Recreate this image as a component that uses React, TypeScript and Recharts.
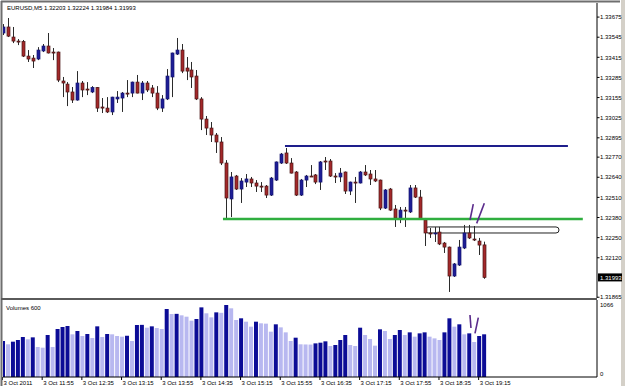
import { ComposedChart, Bar, XAxis, YAxis, ReferenceLine, ReferenceArea, Cell } from 'recharts';

// EURUSD M5, 3 Oct 2011, bars from 11:15 to 19:20
const opens = [
  1.33572, 1.33611, 1.33546, 1.3352, 1.33517, 1.33423, 1.3341, 1.33404, 1.33456, 1.33488,
  1.33449, 1.33449, 1.33262, 1.33242, 1.33191, 1.33139, 1.33249, 1.3321, 1.33191, 1.3322,
  1.33094, 1.33087, 1.33062, 1.33146, 1.33152, 1.33184, 1.33184, 1.33255, 1.33184, 1.33249,
  1.33217, 1.33184, 1.33087, 1.33146, 1.33288, 1.33436, 1.33462, 1.33346, 1.33333, 1.33294,
  1.33146, 1.33016, 1.32958, 1.32913, 1.32868, 1.32732, 1.325, 1.32648, 1.32564, 1.32609,
  1.32629, 1.32603, 1.32583, 1.32583, 1.32525, 1.32622, 1.32732, 1.32797, 1.32732, 1.32674,
  1.32525, 1.32622, 1.32648, 1.32655, 1.32609, 1.32745, 1.32745, 1.32648, 1.32642, 1.32674,
  1.32551, 1.32609, 1.32603, 1.32674, 1.32661, 1.32629, 1.32622, 1.32441, 1.32564, 1.32435,
  1.32377, 1.32428, 1.32416, 1.32571, 1.32512, 1.32364, 1.3228, 1.32278, 1.32286, 1.32215,
  1.32189, 1.32002, 1.32073, 1.32183, 1.3228, 1.32241, 1.32228, 1.32203,
];
const highs = [
  1.3363, 1.33669, 1.33611, 1.33533, 1.33527, 1.33462, 1.3343, 1.33481, 1.33501, 1.33572,
  1.33475, 1.33452, 1.33288, 1.33255, 1.33223, 1.33326, 1.33262, 1.33255, 1.33229, 1.33223,
  1.33152, 1.33158, 1.3316, 1.33197, 1.33191, 1.33268, 1.33258, 1.33301, 1.33262, 1.33262,
  1.33236, 1.33229, 1.33171, 1.33339, 1.33445, 1.3354, 1.33501, 1.33417, 1.33385, 1.33333,
  1.33158, 1.33036, 1.32997, 1.32926, 1.329, 1.32751, 1.32674, 1.32655, 1.32635, 1.32661,
  1.32642, 1.32622, 1.32609, 1.3259, 1.32642, 1.32742, 1.32797, 1.32829, 1.32764, 1.3268,
  1.32629, 1.32655, 1.32719, 1.32661, 1.32745, 1.32771, 1.32758, 1.32667, 1.327, 1.32677,
  1.32612, 1.32642, 1.3268, 1.32719, 1.32687, 1.32687, 1.32625, 1.32564, 1.32571, 1.32461,
  1.32448, 1.32448, 1.3259, 1.3259, 1.32558, 1.32377, 1.32312, 1.32319, 1.32319, 1.32222,
  1.32192, 1.32086, 1.32235, 1.32332, 1.32332, 1.32325, 1.32248, 1.32224,
];
const lows = [
  1.33559, 1.33546, 1.33507, 1.33494, 1.33417, 1.33385, 1.33346, 1.33397, 1.33449, 1.3344,
  1.33397, 1.33255, 1.33158, 1.331, 1.3312, 1.33135, 1.33158, 1.33171, 1.33184, 1.33062,
  1.33055, 1.33055, 1.33042, 1.3312, 1.33062, 1.33158, 1.33158, 1.33182, 1.33139, 1.33191,
  1.33158, 1.33074, 1.33062, 1.33139, 1.33158, 1.3343, 1.33313, 1.33268, 1.33217, 1.33139,
  1.32945, 1.32913, 1.32868, 1.32797, 1.32719, 1.3237, 1.32383, 1.32558, 1.32474, 1.32577,
  1.32577, 1.32545, 1.32545, 1.32506, 1.32519, 1.32616, 1.32726, 1.32726, 1.32665, 1.32519,
  1.32519, 1.32577, 1.32642, 1.32596, 1.32558, 1.32687, 1.32642, 1.32603, 1.32609, 1.32532,
  1.32525, 1.32474, 1.326, 1.32648, 1.3259, 1.32609, 1.32428, 1.32435, 1.32422, 1.32319,
  1.32344, 1.32319, 1.32409, 1.32506, 1.32364, 1.32196, 1.32248, 1.32222, 1.32202, 1.32151,
  1.31899, 1.31996, 1.32067, 1.32176, 1.32241, 1.32228, 1.32138, 1.31984,
];
const closes = [
  1.33611, 1.33552, 1.3352, 1.33517, 1.33423, 1.33404, 1.33391, 1.33462, 1.33488, 1.33443,
  1.33443, 1.33268, 1.33249, 1.33191, 1.33139, 1.33249, 1.33204, 1.33207, 1.3322, 1.33087,
  1.33087, 1.33062, 1.33158, 1.33158, 1.33184, 1.33182, 1.33255, 1.33184, 1.33249, 1.33204,
  1.33184, 1.33087, 1.33146, 1.33294, 1.33443, 1.33462, 1.33326, 1.33326, 1.33288, 1.33146,
  1.33016, 1.32958, 1.32913, 1.32868, 1.32732, 1.32506, 1.32642, 1.32564, 1.32616, 1.32629,
  1.32603, 1.32583, 1.3258, 1.32525, 1.32635, 1.32739, 1.3279, 1.32732, 1.32667, 1.32525,
  1.32622, 1.32648, 1.32646, 1.32609, 1.32739, 1.32742, 1.32648, 1.32642, 1.32667, 1.32551,
  1.32609, 1.32606, 1.32674, 1.32655, 1.32629, 1.32616, 1.32441, 1.32558, 1.32428, 1.32377,
  1.32428, 1.32426, 1.32571, 1.32512, 1.3237, 1.3228, 1.32278, 1.3228, 1.32209, 1.32189,
  1.32002, 1.3208, 1.32189, 1.3228, 1.32248, 1.32238, 1.32202, 1.31993,
];
const volumes = [
  533, 484, 523, 548, 592, 558, 587, 444, 434, 622,
  444, 711, 740, 755, 632, 681, 607, 637, 577, 750,
  592, 637, 632, 607, 597, 612, 533, 770, 772, 730,
  750, 725, 711, 1007, 933, 935, 913, 893, 834, 859,
  1031, 943, 883, 957, 950, 1066, 1017, 844, 869, 819,
  745, 819, 795, 790, 671, 780, 735, 661, 533, 582,
  484, 482, 480, 498, 508, 528, 459, 474, 548, 622,
  474, 459, 730, 622, 563, 464, 706, 681, 563, 622,
  696, 622, 661, 597, 646, 661, 597, 572, 548, 661,
  869, 745, 780, 632, 646, 518, 607, 632,
];

const timeTicks = [0, 8, 16, 24, 32, 40, 48, 56, 64, 72, 80, 88, 96];
const timeLabels = [
  '3 Oct 2011', '3 Oct 11:55', '3 Oct 12:35', '3 Oct 13:15', '3 Oct 13:55', '3 Oct 14:35', '3 Oct 15:15',
  '3 Oct 15:55', '3 Oct 16:35', '3 Oct 17:15', '3 Oct 17:55', '3 Oct 18:35', '3 Oct 19:15',
];
const priceTicks = [
  1.33675, 1.33545, 1.33415, 1.33285, 1.33155, 1.33025, 1.32895, 1.3277, 1.3264, 1.3251,
  1.3238, 1.3225, 1.3212, 1.31993, 1.31865,
];
const lastPrice = 1.31993;
const volumeTicks = [0, 1066];

// trader's drawings (bar index, price / volume)
const resistance = { from: 56.75, to: 113.8, price: 1.32842 };
const support = { from: 44.25, to: 116.8, price: 1.3237 };
const zone = { from: 85, to: 112, low: 1.3228, high: 1.32319 };
const priceMarks = [
  [{ x: 94.05, y: 1.32364 }, { x: 94.72, y: 1.32467 }],
  [{ x: 95.4, y: 1.32342 }, { x: 96.94, y: 1.32472 }],
];
const volumeMarks = [
  [{ x: 94.05, y: 918 }, { x: 94.25, y: 725 }],
  [{ x: 95.73, y: 878 }, { x: 95.06, y: 647 }],
];

const candles = opens.map((o, i) => ({
  i,
  open: o,
  high: highs[i],
  low: lows[i],
  close: closes[i],
  vol: volumes[i],
  range: [lows[i], highs[i]],
}));

const FONT = '"Liberation Sans", Arial, sans-serif';
const X_DOMAIN = [-0.1, 119.66];

function Candle(props: any) {
  const { x, y, width, height, payload } = props;
  if (!payload) return null;
  const top = Math.min(y, y + height);
  const h = Math.abs(height);
  const span = payload.high - payload.low || 1e-9;
  const toY = (v: number) => top + ((payload.high - v) / span) * h;
  const cx = Math.round(x + width / 2) + 0.5;
  const up = payload.close >= payload.open;
  const yo = toY(payload.open);
  const yc = toY(payload.close);
  const bTop = Math.min(yo, yc);
  const bH = Math.max(Math.abs(yo - yc), 1);
  return (
    <g>
      <line x1={cx} x2={cx} y1={top} y2={top + h} stroke="#2b2b2b" strokeWidth={1} />
      <rect
        x={cx - 1.5}
        y={bTop}
        width={3}
        height={bH}
        fill={up ? '#1d1d96' : '#a3282a'}
        stroke={up ? '#141470' : '#4a1616'}
        strokeWidth={0.7}
      />
    </g>
  );
}

function PriceTick(props: any) {
  const { x, y, payload } = props;
  const v = payload.value;
  if (v === lastPrice) {
    return (
      <g>
        <rect x={x + 1} y={y - 4} width={24} height={8} fill="#000" />
        <text x={x + 3} y={y + 2.2} fontSize={6} fontFamily={FONT} fill="#fff">{v.toFixed(5)}</text>
      </g>
    );
  }
  return (
    <g>
      <line x1={x} x2={x + 2.5} y1={y} y2={y} stroke="#000" />
      <text x={x + 3} y={y + 2.2} fontSize={6} fontFamily={FONT} fill="#000">{v.toFixed(5)}</text>
    </g>
  );
}

function VolumeTick(props: any) {
  const { x, y, payload } = props;
  const ty = payload.value === 0 ? y - 1.5 : y + 2.2;
  return (
    <text x={x + 3} y={ty} fontSize={6} fontFamily={FONT} fill="#000">{payload.value}</text>
  );
}

function TimeTick(props: any) {
  const { x, y, payload } = props;
  const label = timeLabels[timeTicks.indexOf(payload.value)];
  return (
    <g>
      <line x1={x - 1} x2={x - 1} y1={y} y2={y + 3} stroke="#000" />
      <text x={x} y={y + 8} fontSize={6} fontFamily={FONT} fill="#000">{label}</text>
    </g>
  );
}

export default function App() {
  return (
    <div style={{ position: 'absolute', left: 0, top: 0, width: 625, height: 386, background: '#fff', overflow: 'hidden' }}>
      <div style={{ position: 'absolute', left: 621, top: 0, width: 4, height: 386, background: '#d4d0c8' }} />

      <div style={{ position: 'absolute', left: 0, top: 0 }}>
        <ComposedChart width={625} height={299} data={candles} margin={{ top: 3, right: 5, bottom: 1, left: 3 }}>
          <XAxis dataKey="i" type="number" domain={X_DOMAIN} allowDataOverflow hide />
          <YAxis
            orientation="right"
            width={23}
            type="number"
            domain={[1.3186, 1.33766]}
            allowDataOverflow
            ticks={priceTicks}
            interval={0}
            tickSize={0}
            tickMargin={0}
            tickLine={false}
            axisLine={{ stroke: '#000' }}
            tick={<PriceTick />}
          />
          <Bar dataKey="range" barSize={4} shape={<Candle />} isAnimationActive={false} />
          <ReferenceLine
            segment={[{ x: resistance.from, y: resistance.price }, { x: resistance.to, y: resistance.price }]}
            stroke="#1e1e8c"
            strokeWidth={2}
          />
          <ReferenceLine
            segment={[{ x: support.from, y: support.price }, { x: support.to, y: support.price }]}
            stroke="#2fae3f"
            strokeWidth={2.5}
          />
          <ReferenceArea
            x1={zone.from}
            x2={zone.to}
            y1={zone.low}
            y2={zone.high}
            shape={(p: any) => (
              <rect x={p.x} y={p.y} width={p.width} height={p.height} rx={3} fill="none" stroke="#222" strokeWidth={1} />
            )}
          />
          {priceMarks.map((seg, k) => (
            <ReferenceLine key={k} segment={seg} stroke="#5b2c8c" strokeWidth={1.6} />
          ))}
        </ComposedChart>
      </div>

      <div style={{ position: 'absolute', left: 0, top: 299 }}>
        <ComposedChart width={625} height={87} data={candles} margin={{ top: 1, right: 5, bottom: 0, left: 3 }}>
          <XAxis
            dataKey="i"
            type="number"
            domain={X_DOMAIN}
            allowDataOverflow
            height={9}
            ticks={timeTicks}
            interval={0}
            tickSize={0}
            tickMargin={0}
            tickLine={false}
            axisLine={{ stroke: '#000' }}
            tick={<TimeTick />}
          />
          <YAxis
            orientation="right"
            width={23}
            type="number"
            domain={[0, 1140]}
            allowDataOverflow
            ticks={volumeTicks}
            interval={0}
            tickSize={0}
            tickMargin={0}
            tickLine={false}
            axisLine={{ stroke: '#000' }}
            tick={<VolumeTick />}
          />
          <Bar dataKey="vol" barSize={4} isAnimationActive={false}>
            {candles.map((c, i) => (
              <Cell key={i} fill={i === 0 || c.vol >= volumes[i - 1] ? '#0c0c96' : '#b8b8f0'} />
            ))}
          </Bar>
          {volumeMarks.map((seg, k) => (
            <ReferenceLine key={k} segment={seg} stroke="#5b2c8c" strokeWidth={1.6} />
          ))}
        </ComposedChart>
      </div>

      <svg width={625} height={386} style={{ position: 'absolute', left: 0, top: 0, pointerEvents: 'none' }}>
        <line x1={1} x2={620} y1={1.5} y2={1.5} stroke="#6f6f6f" strokeWidth={2} />
        <line x1={1.5} x2={1.5} y1={1} y2={386} stroke="#6f6f6f" strokeWidth={2} />
        <line x1={1} x2={597} y1={299} y2={299} stroke="#5a5a5a" strokeWidth={2} />
        <text x={7} y={9.5} fontSize={6} fontFamily={FONT} fill="#000">EURUSD,M5  1.32203 1.32224 1.31984 1.31993</text>
        <text x={6} y={310} fontSize={6} fontFamily={FONT} fill="#000">Volumes 600</text>
      </svg>
    </div>
  );
}
